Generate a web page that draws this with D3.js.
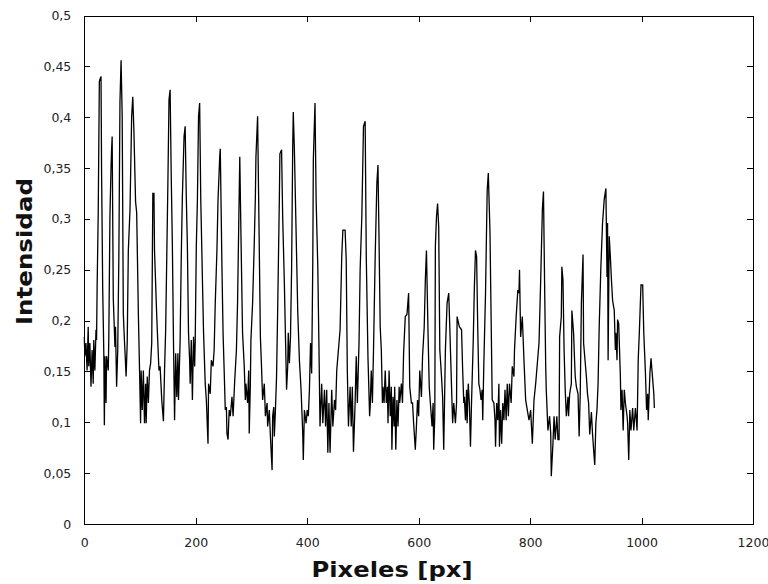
<!DOCTYPE html>
<html>
<head>
<meta charset="utf-8">
<script src="https://cdn.jsdelivr.net/npm/d3@7"></script>
<style>
  html, body { margin: 0; padding: 0; background: #fff; }
  svg { display: block; }
</style>
</head>
<body>
<svg id="chart" width="768" height="584"></svg>
<script>
// ---- Data (pixel position along the profile, intensity) ----
const pixelPos = [
  0,1,3,5,7,8,10,12,14,16,17,19,21,22,23,25,27,28,30,31,33,35,36,37,39,40,43,44,46,48,49,50,52,55,56,58,60,62,64,66,68,70,72,74,75,77,79,82,85,87,89,92,94,97,99,101,102,104,106,108,110,111,113,115,117,119,121,123,125,126,130,134,136,139,142,144,146,148,150,152,154,156,158,160,162,164,166,168,169,
  172,174,176,179,181,183,185,187,189,190,192,194,196,198,199,201,203,205,207,209,212,214,217,219,222,223,226,228,231,233,235,238,240,243,244,247,249,251,253,255,256,258,260,262,265,267,270,273,275,277,279,281,283,284,287,289,290,293,295,296,298,299,302,305,307,308,311,313,316,318,320,323,325,328,329,332,334,337,338,
  340,341,343,345,347,350,351,354,356,359,361,363,365,366,368,370,372,374,375,377,380,383,386,389,392,393,395,398,400,402,404,406,408,410,411,414,416,419,421,423,426,428,431,433,435,437,439,441,444,446,449,451,453,456,459,462,464,468,470,472,474,477,479,481,483,486,488,490,493,495,498,501,504,506,509,512,
  513,515,517,519,522,525,527,529,531,533,535,536,538,540,542,544,545,547,549,551,552,554,556,557,559,561,563,565,566,569,571,573,576,579,582,584,587,589,591,594,596,598,600,602,605,607,610,612,614,617,619,621,624,626,627,629,630,632,634,636,638,641,643,645,648,651,654,656,659,661,663,666,668,669,673,677,679,681,
  682,684,686,687,689,691,693,695,698,700,702,704,706,708,710,712,714,715,717,720,723,725,728,730,732,735,737,738,740,742,744,745,747,749,751,753,755,757,759,761,763,766,768,771,772,775,778,780,781,783,786,789,792,795,798,801,804,807,810,813,816,819,822,824,826,828,829,832,835,837,838,841,843,845,848,850,852,853,
  856,857,859,861,863,865,868,869,871,874,875,878,880,881,883,886,888,890,892,895,896,899,901,903,905,907,910,912,914,916,918,920,922,924,927,930,933,936,938,939,940,942,944,946,948,951,953,954,956,957,959,962,963,965,967,969,971,974,975,977,979,981,984,986,989,992,994,996,999,1002,1004,1007,1009,1011,1012,1015,1017,1020,1022,1023
];
const intensity = [
  0.184,0.165,0.178,0.151,0.194,0.155,0.178,0.135,0.171,0.138,0.181,0.151,0.191,0.181,0.232,0.306,0.435,0.437,0.440,0.348,0.232,0.168,0.097,0.165,0.119,0.165,0.151,0.184,0.302,0.351,0.369,0.381,0.222,0.174,0.194,0.135,0.171,0.263,0.415,0.456,0.401,0.207,0.181,0.158,0.145,0.178,0.269,0.309,0.401,0.420,0.387,0.317,0.306,0.207,0.155,0.099,0.151,0.112,0.151,0.099,0.138,0.099,0.145,0.119,0.151,0.158,0.178,0.325,0.325,0.269,0.204,0.151,0.155,0.122,0.101,0.151,0.191,0.263,0.335,0.417,0.427,0.342,0.276,0.181,0.102,0.168,0.125,0.168,0.122,
  0.181,0.263,0.322,0.381,0.391,0.322,0.273,0.188,0.161,0.138,0.181,0.122,0.184,0.155,0.178,0.273,0.319,0.401,0.414,0.319,0.240,0.188,0.138,0.122,0.079,0.138,0.128,0.161,0.155,0.171,0.217,0.269,0.319,0.361,0.369,0.253,0.188,0.151,0.112,0.115,0.089,0.083,0.112,0.106,0.125,0.106,0.142,0.171,0.217,0.289,0.361,0.289,0.220,0.188,0.155,0.122,0.138,0.119,0.151,0.089,0.138,0.181,0.217,0.276,0.322,0.361,0.401,0.315,0.184,0.155,0.122,0.138,0.106,0.119,0.096,0.112,0.086,0.053,0.106,
  0.115,0.086,0.112,0.145,0.210,0.319,0.364,0.368,0.302,0.237,0.184,0.132,0.155,0.188,0.158,0.184,0.250,0.371,0.405,0.368,0.289,0.210,0.161,0.132,0.089,0.063,0.112,0.099,0.112,0.106,0.132,0.178,0.148,0.256,0.358,0.414,0.319,0.253,0.178,0.096,0.138,0.099,0.132,0.096,0.132,0.070,0.119,0.070,0.132,0.096,0.122,0.112,0.151,0.171,0.191,0.263,0.289,0.289,0.260,0.151,0.096,0.135,0.096,0.135,0.071,0.119,0.165,0.119,0.178,0.250,0.302,0.391,0.396,0.263,0.165,0.106,
  0.115,0.151,0.119,0.171,0.263,0.335,0.353,0.276,0.194,0.171,0.119,0.135,0.119,0.151,0.119,0.135,0.099,0.151,0.106,0.135,0.073,0.125,0.096,0.135,0.073,0.122,0.096,0.135,0.119,0.138,0.119,0.168,0.204,0.206,0.227,0.135,0.119,0.119,0.099,0.073,0.096,0.122,0.106,0.151,0.125,0.165,0.194,0.240,0.269,0.184,0.135,0.119,0.096,0.119,0.073,0.106,0.273,0.302,0.315,0.292,0.171,0.145,0.125,0.073,0.171,0.217,0.227,0.191,0.135,0.099,0.119,0.099,0.119,0.204,0.194,0.191,0.151,0.119,
  0.125,0.102,0.132,0.099,0.138,0.119,0.076,0.122,0.181,0.233,0.269,0.263,0.194,0.138,0.132,0.122,0.132,0.102,0.158,0.227,0.328,0.345,0.287,0.204,0.122,0.119,0.102,0.076,0.119,0.102,0.138,0.076,0.112,0.079,0.119,0.102,0.132,0.102,0.138,0.106,0.138,0.119,0.155,0.145,0.171,0.204,0.230,0.227,0.250,0.184,0.204,0.161,0.122,0.112,0.102,0.112,0.079,0.122,0.138,0.158,0.178,0.240,0.309,0.327,0.237,0.155,0.132,0.092,0.106,0.089,0.047,0.079,0.106,0.083,0.106,0.083,0.083,0.184,
  0.204,0.253,0.240,0.171,0.132,0.106,0.125,0.106,0.128,0.138,0.210,0.188,0.158,0.145,0.135,0.128,0.086,0.128,0.217,0.265,0.178,0.158,0.145,0.128,0.119,0.088,0.110,0.089,0.073,0.058,0.099,0.112,0.138,0.194,0.253,0.296,0.319,0.330,0.243,0.296,0.161,0.283,0.263,0.240,0.220,0.210,0.171,0.188,0.161,0.201,0.197,0.145,0.112,0.132,0.092,0.132,0.119,0.106,0.099,0.063,0.112,0.092,0.114,0.092,0.114,0.092,0.161,0.188,0.235,0.235,0.188,0.148,0.112,0.128,0.102,0.148,0.163,0.142,0.128,0.114
];
const xTicks = [0, 200, 400, 600, 800, 1000, 1200];
const yTicks = [0, 0.05, 0.1, 0.15, 0.2, 0.25, 0.3, 0.35, 0.4, 0.45, 0.5];
const xTitle = "Pixeles [px]";
const yTitle = "Intensidad";

// ---- Layout ----
const L = 84.3, R = 753, T = 15.5, B = 524;
const svg = d3.select("#chart");
svg.append("rect").attr("width", 768).attr("height", 584).attr("fill", "#fff");

const x = d3.scaleLinear().domain([0, 1200]).range([L, R]);
const y = d3.scaleLinear().domain([0, 0.5]).range([B, T]);
const fmtY = v => d3.format("~g")(v).replace(".", ",");

const tickFont = "'DejaVu Sans', sans-serif";

const gx = svg.append("g").attr("transform", `translate(0,${B})`)
  .call(d3.axisBottom(x).tickValues(xTicks).tickSizeInner(-6).tickSizeOuter(0).tickPadding(14).tickFormat(d3.format("d")));
const gxt = svg.append("g").attr("transform", `translate(0,${T})`)
  .call(d3.axisTop(x).tickValues(xTicks).tickSizeInner(-6).tickSizeOuter(0).tickFormat(""));
const gy = svg.append("g").attr("transform", `translate(${L},0)`)
  .call(d3.axisLeft(y).tickValues(yTicks).tickSizeInner(-6).tickSizeOuter(0).tickPadding(13).tickFormat(fmtY));
const gyr = svg.append("g").attr("transform", `translate(${R},0)`)
  .call(d3.axisRight(y).tickValues(yTicks).tickSizeInner(-6).tickSizeOuter(0).tickFormat(""));

[gx, gxt, gy, gyr].forEach(g => {
  g.select(".domain").attr("stroke", "#000").attr("stroke-width", 1).attr("shape-rendering", "crispEdges");
  g.selectAll(".tick line").attr("stroke", "#000").attr("shape-rendering", "crispEdges");
  g.selectAll("text").attr("font-family", tickFont).attr("font-size", 12.5).attr("fill", "#222");
});

const pts = pixelPos.map((p, i) => [p, intensity[i]]);
svg.append("path")
  .datum(pts)
  .attr("fill", "none")
  .attr("stroke", "#000")
  .attr("stroke-width", 1.3)
  .attr("stroke-linejoin", "miter")
  .attr("d", d3.line().x(d => x(d[0])).y(d => y(d[1])));

svg.append("text")
  .attr("x", 392).attr("y", 577)
  .attr("text-anchor", "middle")
  .attr("font-family", "'DejaVu Sans', sans-serif")
  .attr("font-weight", "bold")
  .attr("font-size", 22)
  .attr("textLength", 161).attr("lengthAdjust", "spacingAndGlyphs")
  .attr("fill", "#111")
  .text(xTitle);

svg.append("text")
  .attr("transform", "translate(32,251.5) rotate(-90)")
  .attr("text-anchor", "middle")
  .attr("font-family", "'DejaVu Sans', sans-serif")
  .attr("font-weight", "bold")
  .attr("font-size", 22)
  .attr("textLength", 147).attr("lengthAdjust", "spacingAndGlyphs")
  .attr("fill", "#111")
  .text(yTitle);
</script>
</body>
</html>
